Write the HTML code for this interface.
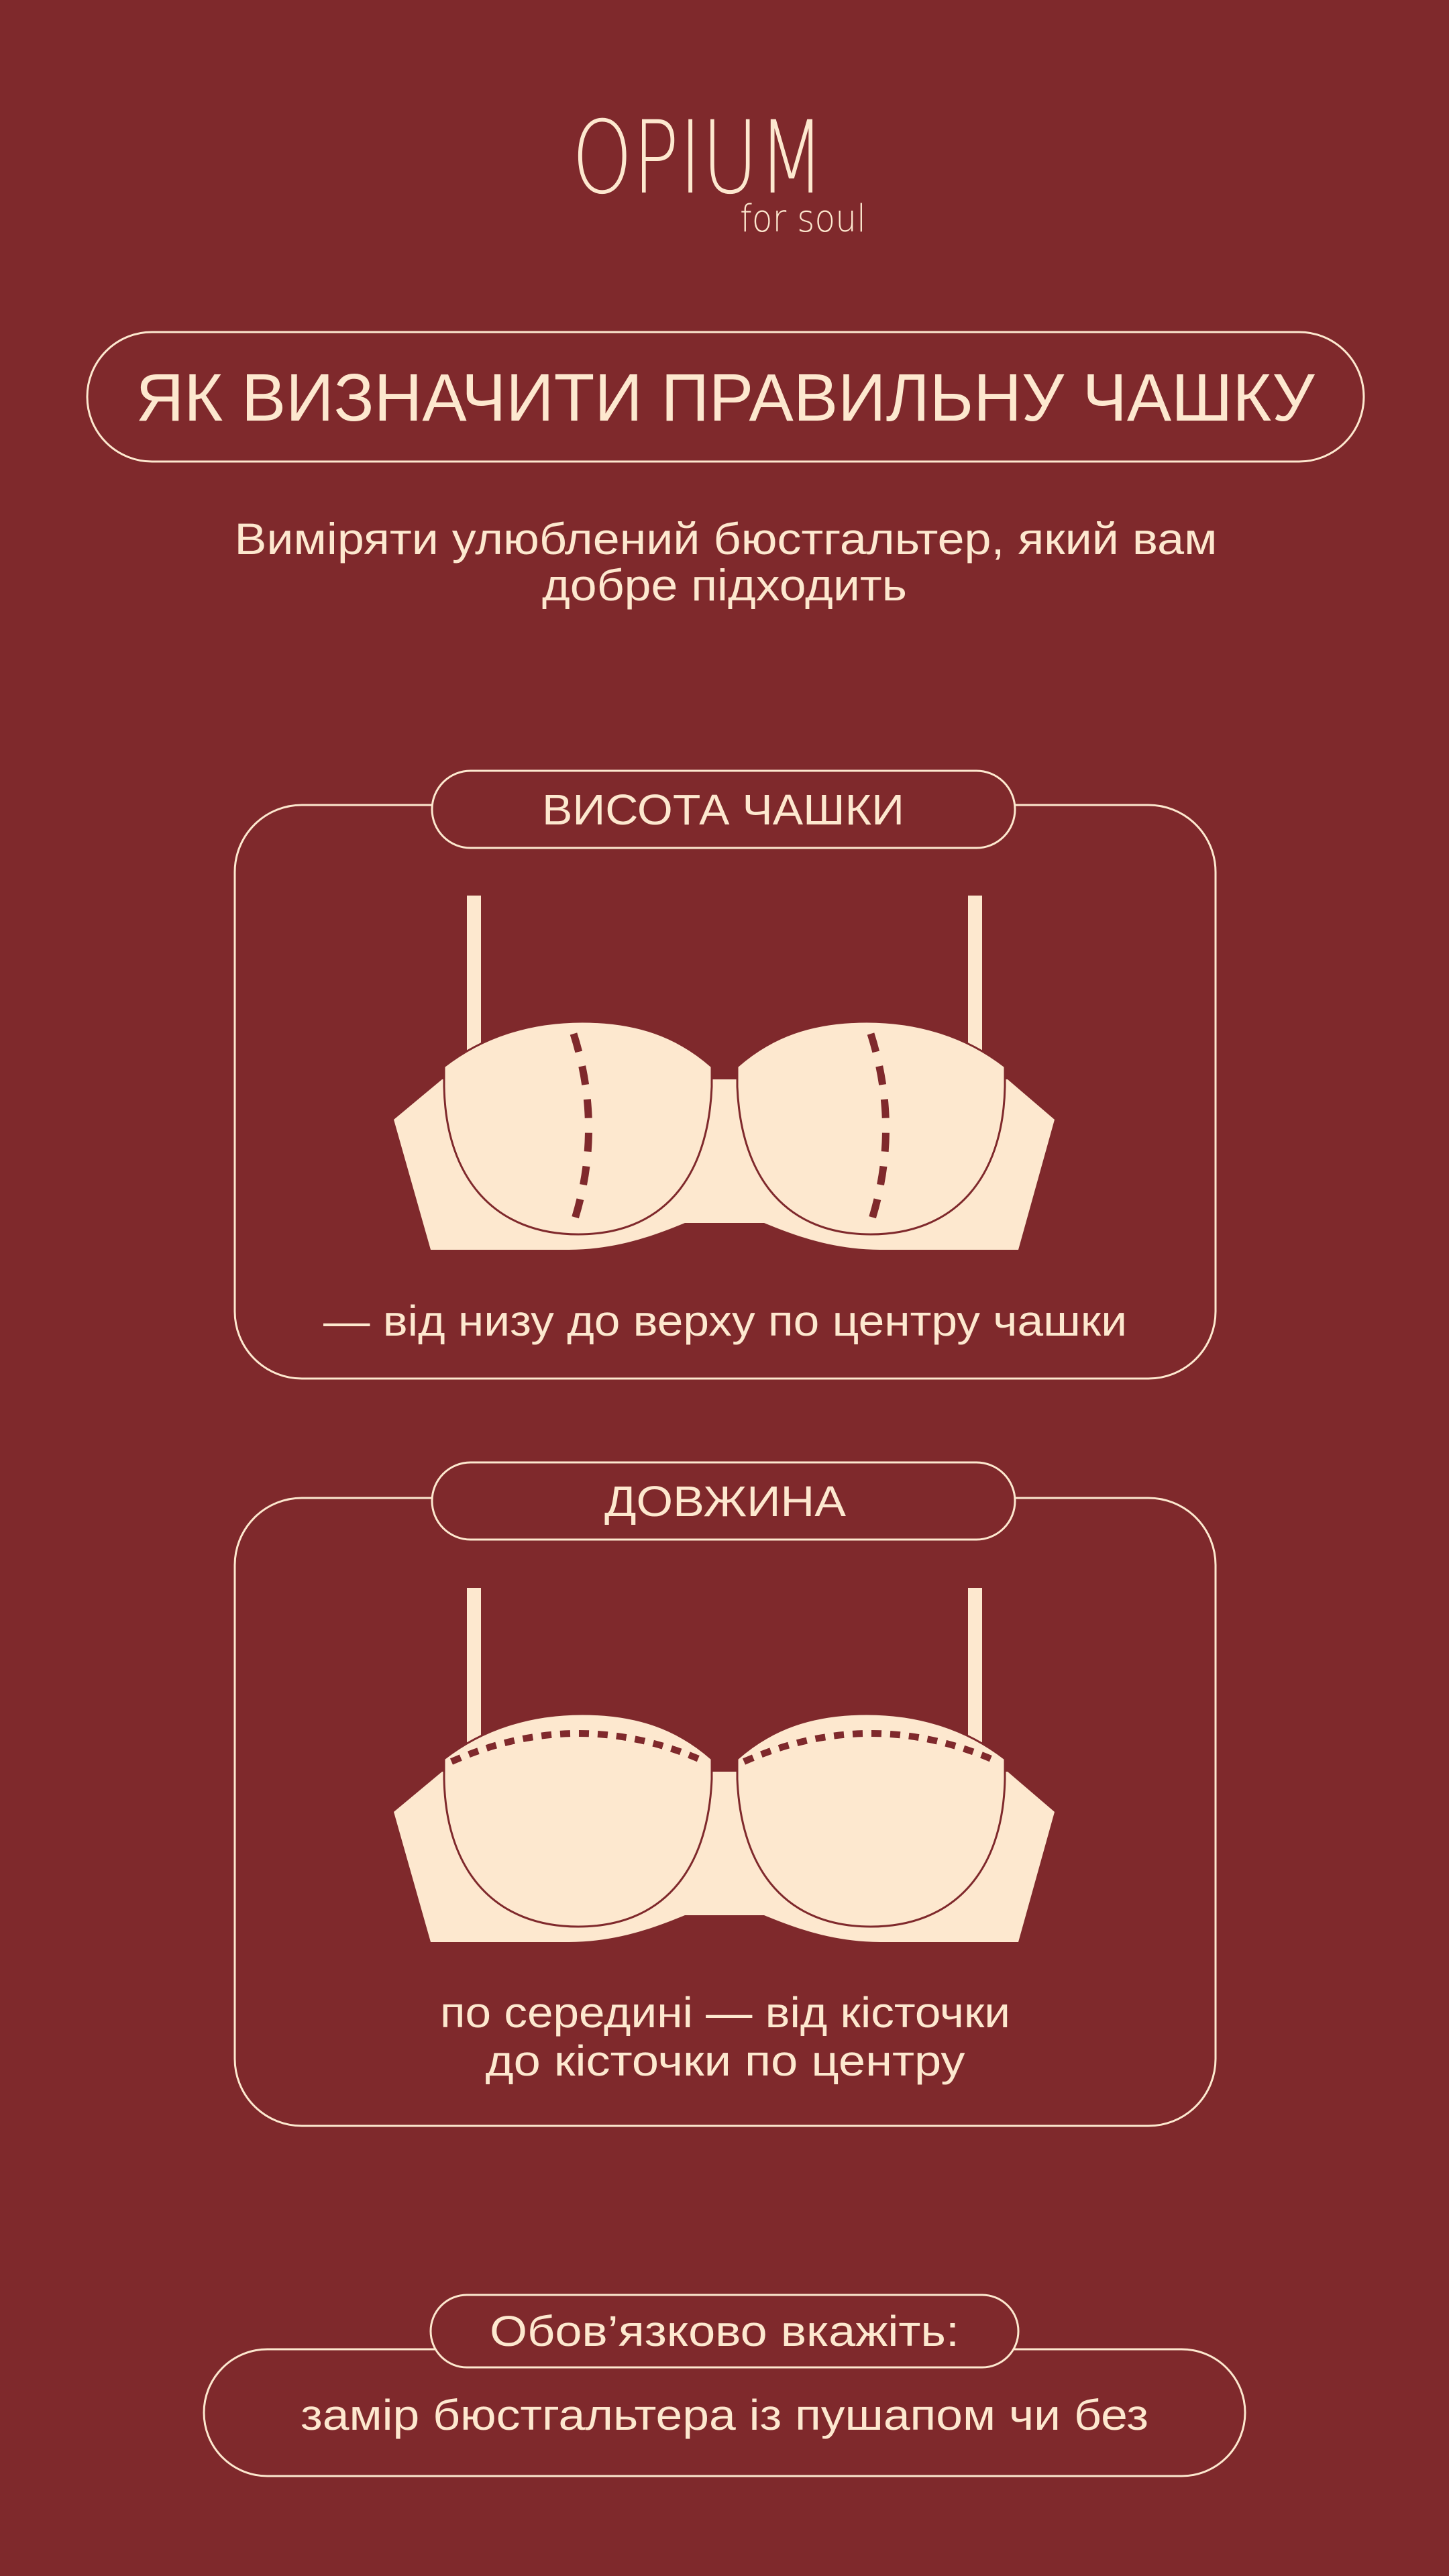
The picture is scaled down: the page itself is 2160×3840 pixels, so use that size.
<!DOCTYPE html>
<html><head><meta charset="utf-8"><style>
html,body{margin:0;padding:0;background:#7f292c;}
svg{display:block}
text{font-family:"Liberation Sans","DejaVu Sans",sans-serif;fill:#fde8cf}
</style></head><body>
<svg width="2160" height="3840" viewBox="0 0 2160 3840" xmlns="http://www.w3.org/2000/svg">
<defs>
<g id="bra">
 <rect x="696" y="1335" width="21" height="280" fill="#fde8cf"/>
 <rect x="1443" y="1335" width="21" height="280" fill="#fde8cf"/>
 <path d="M659,1609 L587,1669 L642,1863 L848,1863 C920,1863 980,1840 1021,1823 L1139,1823 C1180,1840 1240,1863 1312,1863 L1518,1863 L1572,1669 L1502,1609 Z" fill="#fde8cf"/>
 <g id="cup">
  <path d="M662,1590 C720,1545 790,1523 868,1523 C950,1523 1010,1545 1061,1590 L1061,1620 C1055,1760 985,1840 862,1840 C740,1840 665,1760 662,1620 Z" fill="#fde8cf" stroke="#7f292c" stroke-width="3"/>
 </g>
 <use href="#cup" transform="translate(2160,0) scale(-1,1)"/>
</g>
</defs>

<rect width="2160" height="3840" fill="#7f292c"/>

<!-- logo -->
<text x="1041" y="287" text-anchor="middle" font-size="150" textLength="377" lengthAdjust="spacingAndGlyphs" style="font-family:'DejaVu Sans ExtraLight','DejaVu Sans',sans-serif;font-weight:200">OPIUM</text>
<text x="1197" y="345" text-anchor="middle" font-size="56" textLength="188" lengthAdjust="spacingAndGlyphs" style="font-family:'DejaVu Sans ExtraLight','DejaVu Sans',sans-serif;font-weight:200">for soul</text>

<!-- title -->
<rect x="130" y="495" width="1903" height="193" rx="96.5" fill="none" stroke="#fde8cf" stroke-width="3"/>
<text x="1081" y="627" text-anchor="middle" font-size="100" textLength="1757" lengthAdjust="spacingAndGlyphs">ЯК ВИЗНАЧИТИ ПРАВИЛЬНУ ЧАШКУ</text>

<text x="1082" y="826" text-anchor="middle" font-size="66" textLength="1465" lengthAdjust="spacingAndGlyphs">Виміряти улюблений бюстгальтер, який вам</text>
<text x="1080" y="895" text-anchor="middle" font-size="66" textLength="544" lengthAdjust="spacingAndGlyphs">добре підходить</text>

<!-- box 1 -->
<rect x="350" y="1200" width="1462" height="855" rx="100" fill="none" stroke="#fde8cf" stroke-width="3"/>
<rect x="644" y="1149" width="869" height="115" rx="57.5" fill="#7f292c" stroke="#fde8cf" stroke-width="3"/>
<text x="1078" y="1229" text-anchor="middle" font-size="64" textLength="540" lengthAdjust="spacingAndGlyphs">ВИСОТА ЧАШКИ</text>
<use href="#bra"/>
<path d="M855,1541 Q900,1683 855,1823" fill="none" stroke="#7f292c" stroke-width="11" stroke-dasharray="28,22"/>
<path d="M1298,1541 Q1343,1683 1298,1823" fill="none" stroke="#7f292c" stroke-width="11" stroke-dasharray="28,22"/>
<text x="1081" y="1991" text-anchor="middle" font-size="64" textLength="1198" lengthAdjust="spacingAndGlyphs">— від низу до верху по центру чашки</text>

<!-- box 2 -->
<rect x="350" y="2233" width="1462" height="936" rx="100" fill="none" stroke="#fde8cf" stroke-width="3"/>
<rect x="644" y="2180" width="869" height="115" rx="57.5" fill="#7f292c" stroke="#fde8cf" stroke-width="3"/>
<text x="1081" y="2260" text-anchor="middle" font-size="64" textLength="360" lengthAdjust="spacingAndGlyphs">ДОВЖИНА</text>
<g transform="translate(0,1032)">
 <use href="#bra"/>
 <path d="M673,1594 Q862,1510 1051,1594" fill="none" stroke="#7f292c" stroke-width="10" stroke-dasharray="15,13"/>
 <path d="M1109,1594 Q1298,1510 1487,1594" fill="none" stroke="#7f292c" stroke-width="10" stroke-dasharray="15,13"/>
</g>
<text x="1081" y="3022" text-anchor="middle" font-size="64" textLength="850" lengthAdjust="spacingAndGlyphs">по середині — від кісточки</text>
<text x="1081" y="3094" text-anchor="middle" font-size="64" textLength="715" lengthAdjust="spacingAndGlyphs">до кісточки по центру</text>

<!-- bottom -->
<rect x="304" y="3502" width="1552" height="189" rx="94.5" fill="none" stroke="#fde8cf" stroke-width="3"/>
<rect x="642" y="3421" width="876" height="108" rx="54" fill="#7f292c" stroke="#fde8cf" stroke-width="3"/>
<text x="1080" y="3497" text-anchor="middle" font-size="64" textLength="700" lengthAdjust="spacingAndGlyphs">Обов’язково вкажіть:</text>
<text x="1080" y="3622" text-anchor="middle" font-size="64" textLength="1264" lengthAdjust="spacingAndGlyphs">замір бюстгальтера із пушапом чи без</text>
</svg>
</body></html>
